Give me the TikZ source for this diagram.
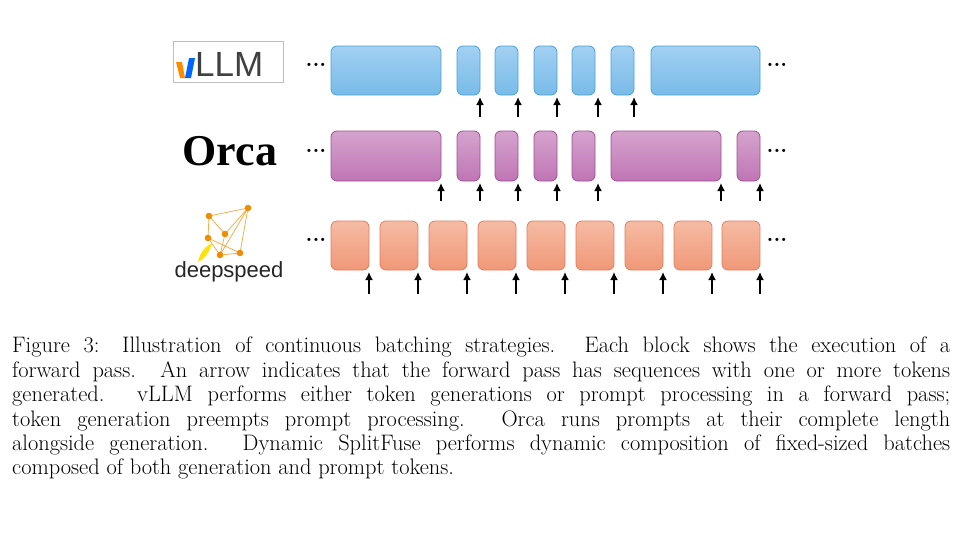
\documentclass[tikz,border=0pt]{standalone}
\usepackage{xcolor}
\usepackage{fontspec}
\newfontfamily\logofont{Liberation Sans}
\newfontfamily\orcafont{Liberation Serif}
\usetikzlibrary{arrows.meta,positioning}
\definecolor{vtop}{HTML}{A2D0F2}\definecolor{vbot}{HTML}{78BBE8}\definecolor{vedge}{HTML}{4AA3D6}
\definecolor{otop}{HTML}{D5A3CE}\definecolor{obot}{HTML}{C075B4}\definecolor{oedge}{HTML}{9E4E94}
\definecolor{dtop}{HTML}{F6BBA4}\definecolor{dbot}{HTML}{F09877}\definecolor{dedge}{HTML}{E07E5E}
\definecolor{dsnode}{HTML}{F08C00}
\begin{document}
\begin{tikzpicture}[x=1pt,y=-1pt,
    vblk/.style={rectangle, rounded corners=6pt, draw=vedge, top color=vtop, bottom color=vbot, line width=0.8pt},
    oblk/.style={rectangle, rounded corners=6pt, draw=oedge, top color=otop, bottom color=obot, line width=0.8pt},
    dblk/.style={rectangle, rounded corners=6pt, draw=dedge, top color=dtop, bottom color=dbot, line width=0.8pt},
    arr/.style={-{Latex[length=8pt,width=8pt]}, line width=2.2pt},
    dots/.style={font=\bfseries\fontsize{22}{22}\selectfont, inner sep=0pt}
]
\useasboundingbox (0,0) rectangle (979,536);
% vLLM row
\foreach \a/\b in {331/441,457/480,495/518,534/557,572/595,611/634,651/760}
  \path[vblk] (\a,46) rectangle (\b,95);
\foreach \x in {480,518,557,598,634}
  \draw[arr] (\x,117) -- (\x,97);
% Orca row
\foreach \a/\b in {331/441,457/480,495/518,534/557,572/595,611/721,737/760}
  \path[oblk] (\a,131) rectangle (\b,181);
\foreach \x in {441,480,518,557,598,721,760}
  \draw[arr] (\x,201) -- (\x,183);
% deepspeed row
\foreach \a in {331,380,429,478,527,576,625,674,722}
  \path[dblk] (\a,221) rectangle (\a+38,270);
\foreach \a in {331,380,429,478,527,576,625,674,722}
  \draw[arr] (\a+38,294) -- (\a+38,272);
% dots
\foreach \y/\n in {70/v,156/o,245/d} {
  \node[dots] (l\n) at (316,\y-5) {...};
  \node[dots] (r\n) at (777,\y-5) {...};
}
% logos
\node[draw=black!25, fill=white, inner sep=1pt, minimum width=110pt, minimum height=41pt] (vllm) at (228,62) {};
\fill[orange!90!yellow] (176,62) -- (182,62) -- (185,78) -- (180,78) -- cycle;
\fill[blue!60!cyan] (185,78) -- (189,58) -- (195,58) -- (191,78) -- cycle;
\node[font=\logofont\fontsize{35}{35}\selectfont, text=black!75, anchor=west, inner sep=0pt] (vtxt) at (195,64) {LLM};
\node[font=\orcafont\bfseries\fontsize{44}{44}\selectfont] (orca) at (230,151) {Orca};
\node[font=\logofont\fontsize{22}{22}\selectfont, text=black!85] (dstxt) at (229,272) {deepspeed};
\coordinate (na) at (209,216);
\coordinate (nb) at (248,208);
\coordinate (nc) at (208,238);
\coordinate (nd) at (225,234);
\coordinate (ne) at (220,255);
\coordinate (nf) at (240,253);
\draw[dsnode!70, line width=0.8pt] (na) -- (nb) (na) -- (nc) (na) -- (nd) (nb) -- (nd) (nb) -- (nf) (nc) -- (ne) (nd) -- (ne) (ne) -- (nf) (nc) -- (nf) (nb) -- (ne);
\foreach \n in {na,nb,nc,nd,ne,nf} \fill[dsnode] (\n) circle (3.3pt);
\fill[yellow!85!orange] (198,262) .. controls (200,252) and (206,246) .. (212,243) .. controls (210,252) and (204,259) .. (198,262);
% caption
\node[anchor=north west, text width=938pt, align=justify, inner sep=0pt,
      font=\fontsize{22.4}{24.4}\selectfont] (cap) at (12,337) {Figure 3: Illustration of continuous batching strategies. Each block shows the execution of a\linebreak
forward pass. An arrow indicates that the forward pass has sequences with one or more tokens\linebreak
generated. vLLM performs either token generations or prompt processing in a forward pass;\linebreak
token generation preempts prompt processing. Orca runs prompts at their complete length\linebreak
alongside generation. Dynamic SplitFuse performs dynamic composition of fixed-sized batches\linebreak
composed of both generation and prompt tokens.\par};
\end{tikzpicture}
\end{document}
